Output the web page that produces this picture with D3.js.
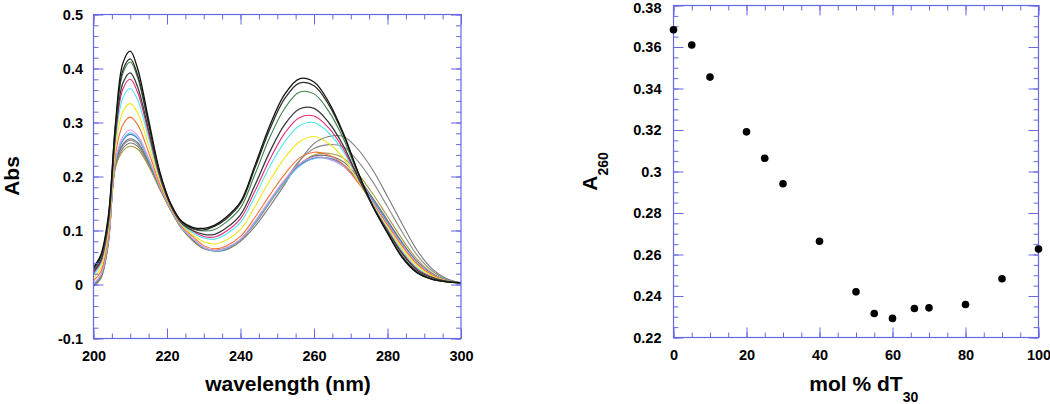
<!DOCTYPE html>
<html><head><meta charset="utf-8">
<script src="https://cdn.jsdelivr.net/npm/d3@7"></script>
<style>
body{margin:0;background:#fff}
svg{display:block}
text{font-family:"Liberation Sans",Arial,Helvetica,sans-serif;font-weight:bold;fill:#000}
</style>
</head><body>
<svg id="c" width="1050" height="404"></svg>
<script>
// ---------- DATA ----------
const wavelengths = [200,202,204,206,208,210,212,215,218,221,224,227,230,233,236,240,244,248,252,256,260,264,268,272,276,280,284,288,292,296,300];

const spec0   = [0.032,0.055,0.125,0.300,0.410,0.432,0.400,0.305,0.210,0.150,0.117,0.106,0.104,0.110,0.124,0.153,0.222,0.295,0.352,0.381,0.375,0.338,0.280,0.208,0.145,0.095,0.050,0.022,0.010,0.005,0.003];
const spec5   = [0.029,0.052,0.121,0.294,0.397,0.418,0.388,0.298,0.207,0.149,0.116,0.104,0.101,0.108,0.121,0.150,0.217,0.288,0.344,0.373,0.368,0.333,0.277,0.207,0.145,0.096,0.051,0.023,0.010,0.005,0.003];
const spec10  = [0.028,0.050,0.119,0.290,0.391,0.412,0.383,0.295,0.206,0.149,0.115,0.103,0.099,0.102,0.115,0.142,0.205,0.273,0.326,0.356,0.353,0.321,0.270,0.204,0.145,0.097,0.053,0.024,0.011,0.005,0.003];
const spec20  = [0.024,0.045,0.113,0.281,0.373,0.392,0.366,0.286,0.203,0.147,0.114,0.100,0.093,0.093,0.104,0.129,0.185,0.246,0.296,0.325,0.326,0.300,0.257,0.199,0.145,0.099,0.057,0.027,0.013,0.006,0.003];
const spec25  = [0.021,0.042,0.110,0.276,0.362,0.380,0.356,0.280,0.200,0.146,0.113,0.099,0.089,0.088,0.098,0.122,0.174,0.232,0.280,0.309,0.312,0.290,0.251,0.197,0.146,0.101,0.059,0.029,0.014,0.006,0.003];
const spec30  = [0.018,0.038,0.105,0.268,0.346,0.363,0.342,0.271,0.197,0.145,0.112,0.096,0.086,0.084,0.093,0.115,0.164,0.219,0.264,0.294,0.300,0.281,0.246,0.196,0.147,0.103,0.062,0.031,0.014,0.006,0.003];
const spec40  = [0.012,0.031,0.097,0.254,0.320,0.335,0.318,0.258,0.192,0.143,0.110,0.092,0.079,0.075,0.082,0.102,0.145,0.193,0.234,0.264,0.274,0.261,0.234,0.192,0.148,0.106,0.066,0.035,0.016,0.007,0.003];
const spec50  = [0.007,0.024,0.089,0.242,0.296,0.310,0.296,0.245,0.187,0.141,0.108,0.089,0.072,0.066,0.071,0.089,0.125,0.166,0.204,0.234,0.245,0.240,0.222,0.189,0.150,0.110,0.071,0.038,0.018,0.007,0.003];
const spec55  = [0.002,0.018,0.082,0.231,0.274,0.286,0.276,0.234,0.183,0.140,0.106,0.085,0.069,0.063,0.068,0.084,0.118,0.157,0.194,0.223,0.236,0.233,0.220,0.189,0.152,0.112,0.073,0.040,0.019,0.007,0.003];
const spec60  = [0.001,0.017,0.081,0.229,0.269,0.281,0.272,0.231,0.182,0.139,0.105,0.085,0.068,0.062,0.066,0.083,0.115,0.154,0.190,0.219,0.233,0.232,0.219,0.190,0.153,0.113,0.074,0.041,0.019,0.007,0.003];
const spec66  = [0.000,0.016,0.080,0.228,0.267,0.278,0.270,0.230,0.181,0.139,0.105,0.084,0.068,0.062,0.066,0.083,0.115,0.154,0.190,0.220,0.234,0.234,0.222,0.193,0.156,0.116,0.076,0.042,0.020,0.008,0.003];
const spec70  = [-0.001,0.014,0.078,0.224,0.260,0.270,0.263,0.226,0.180,0.139,0.105,0.083,0.067,0.063,0.067,0.083,0.116,0.155,0.192,0.222,0.238,0.238,0.227,0.198,0.160,0.119,0.078,0.043,0.020,0.008,0.003];
const spec80  = [-0.004,0.011,0.073,0.217,0.247,0.256,0.251,0.219,0.177,0.138,0.104,0.081,0.066,0.062,0.066,0.082,0.114,0.152,0.189,0.222,0.240,0.243,0.234,0.205,0.168,0.126,0.084,0.047,0.022,0.008,0.003];
const spec90  = [-0.002,0.013,0.077,0.222,0.257,0.267,0.260,0.225,0.179,0.138,0.104,0.083,0.068,0.063,0.066,0.083,0.113,0.152,0.191,0.229,0.252,0.259,0.255,0.228,0.190,0.144,0.097,0.055,0.026,0.010,0.003];
const spec100 = [-0.003,0.012,0.075,0.220,0.252,0.262,0.256,0.222,0.178,0.138,0.104,0.082,0.068,0.062,0.064,0.080,0.108,0.145,0.185,0.228,0.261,0.274,0.274,0.250,0.212,0.163,0.112,0.064,0.030,0.011,0.003];

const spectraNames  = ["0%","5%","10%","20%","25%","30%","40%","50%","55%","60%","66%","70%","80%","90%","100%"];
const spectraValues = [spec0,spec5,spec10,spec20,spec25,spec30,spec40,spec50,spec55,spec60,spec66,spec70,spec80,spec90,spec100];
const spectraColors = ["#111111","#2e2e2e","#3c8446","#3a3a3a","#e8287a","#52e4f2","#f4e41c","#f07332","#e093e0","#62c6f0","#3a7cc4","#6e6e6e","#a89a3c","#8c8c8c","#7a7a7a"];

const molPct = [0,5,10,20,25,30,40,50,55,60,66,70,80,90,100];
const a260   = [0.3683,0.3610,0.3455,0.3191,0.3064,0.2941,0.2664,0.2420,0.2316,0.2292,0.2340,0.2343,0.2359,0.2483,0.2626];

const leftXTicks  = [200,220,240,260,280,300];
const leftXLabels = ["200","220","240","260","280","300"];
const leftYTicks  = [-0.1,0,0.1,0.2,0.3,0.4,0.5];
const leftYLabels = ["-0.1","0","0.1","0.2","0.3","0.4","0.5"];
const rightXTicks  = [0,20,40,60,80,100];
const rightXLabels = ["0","20","40","60","80","100"];
const rightYTicks  = [0.22,0.24,0.26,0.28,0.30,0.32,0.34,0.36,0.38];
const rightYLabels = ["0.22","0.24","0.26","0.28","0.3","0.32","0.34","0.36","0.38"];

// ---------- DRAW ----------
const svg = d3.select("#c");
const frameColor = "#6767e4";

function drawFrame(g, x, y, xTicks, xLabels, xMinor, yTicks, yLabels, yMinor, pad) {
  const [x0, x1] = x.range(), [y0, y1] = y.range(); // y0 bottom
  const w = x1 - x0, h = y0 - y1;
  const mk = (axisFn, scale, vals, size, labels, tx, ty, padding) => {
    const ax = axisFn(scale).tickValues(vals).tickSize(size).tickPadding(padding)
      .tickFormat(labels ? (d, i) => labels[i] : () => "");
    const gg = g.append("g").attr("transform", `translate(${tx},${ty})`).call(ax);
    gg.select(".domain").remove();
    gg.selectAll("line").attr("stroke", frameColor).attr("stroke-width", 1);
    gg.selectAll("text").attr("font-size", 14.5).attr("font-weight", "bold")
      .attr("fill", "#000").attr("font-family", '"Liberation Sans",Arial,sans-serif');
    return gg;
  };
  // bottom
  mk(d3.axisBottom, x, xTicks, -10, xLabels, 0, y0, pad.x);
  mk(d3.axisBottom, x, xMinor, -5, null, 0, y0, 0);
  // top
  mk(d3.axisTop, x, xTicks, -10, null, 0, y1, 0);
  mk(d3.axisTop, x, xMinor, -5, null, 0, y1, 0);
  // left
  const yl = mk(d3.axisLeft, y, yTicks, -10, yLabels, x0, 0, pad.y);
  mk(d3.axisLeft, y, yMinor, -5, null, x0, 0, 0);
  // right
  mk(d3.axisRight, y, yTicks, -10, null, x1, 0, 0);
  mk(d3.axisRight, y, yMinor, -5, null, x1, 0, 0);
  g.append("rect").attr("x", x0).attr("y", y1).attr("width", w).attr("height", h)
    .attr("fill", "none").attr("stroke", frameColor).attr("stroke-width", 1.2);
  return yl;
}

// Left panel: spectra
const xL = d3.scaleLinear().domain([200, 300]).range([93.5, 461]);
const yL = d3.scaleLinear().domain([-0.1, 0.5]).range([338.5, 14.5]);
const gL = svg.append("g");

const line = d3.line()
  .x((d, i) => xL(wavelengths[i]))
  .y(d => yL(d))
  .curve(d3.curveCatmullRom.alpha(0.5));

const order = d3.range(spectraValues.length).reverse();
gL.append("g").selectAll("path").data(order).join("path")
  .attr("d", i => line(spectraValues[i]))
  .attr("fill", "none")
  .attr("stroke", i => spectraColors[i])
  .attr("stroke-width", i => (i === 0 || i === 1 || i === 3) ? 1.3 : 1.1);

drawFrame(gL, xL, yL, leftXTicks, leftXLabels, d3.range(200, 301, 5),
  leftYTicks, leftYLabels, d3.range(-10, 51, 2).map(v => v / 100), {x: 12.5, y: 10.5});

gL.append("text").attr("transform", "translate(19,176) rotate(-90)")
  .attr("text-anchor", "middle").attr("font-size", 21).text("Abs");
gL.append("text").attr("x", 288).attr("y", 390.5)
  .attr("text-anchor", "middle").attr("font-size", 21).text("wavelength (nm)");

// Right panel: A260 vs mol %
const xR = d3.scaleLinear().domain([0, 100]).range([673.5, 1038.5]);
const yR = d3.scaleLinear().domain([0.22, 0.38]).range([337.5, 5.5]);
const gR = svg.append("g");

const yAxR = drawFrame(gR, xR, yR, rightXTicks, rightXLabels, d3.range(0, 101, 5),
  rightYTicks, rightYLabels, d3.range(220, 381, 5).map(v => v / 1000), {x: 12, y: 12});
// keep the top label inside the window
yAxR.selectAll("text").filter((d) => d === 0.38).attr("dy", "0.5em");

gR.append("g").selectAll("circle").data(molPct).join("circle")
  .attr("cx", d => xR(d)).attr("cy", (d, i) => yR(a260[i]))
  .attr("r", 3.8).attr("fill", "#000");

const yt = gR.append("text").attr("transform", `translate(597,${(yR.range()[0] + yR.range()[1]) / 2}) rotate(-90)`)
  .attr("text-anchor", "middle");
yt.append("tspan").attr("font-size", 21).text("A");
yt.append("tspan").attr("font-size", 14).attr("dy", 11).text("260");

const xt = gR.append("text").attr("y", 390.5).attr("text-anchor", "start");
const xtMain = xt.append("tspan").attr("font-size", 21).text("mol % dT");
xt.append("tspan").attr("font-size", 14).attr("dy", 11).text("30");
const mainW = xtMain.node().getComputedTextLength();
xt.attr("x", (xR.range()[0] + xR.range()[1]) / 2 - mainW / 2);
</script>
</body></html>
